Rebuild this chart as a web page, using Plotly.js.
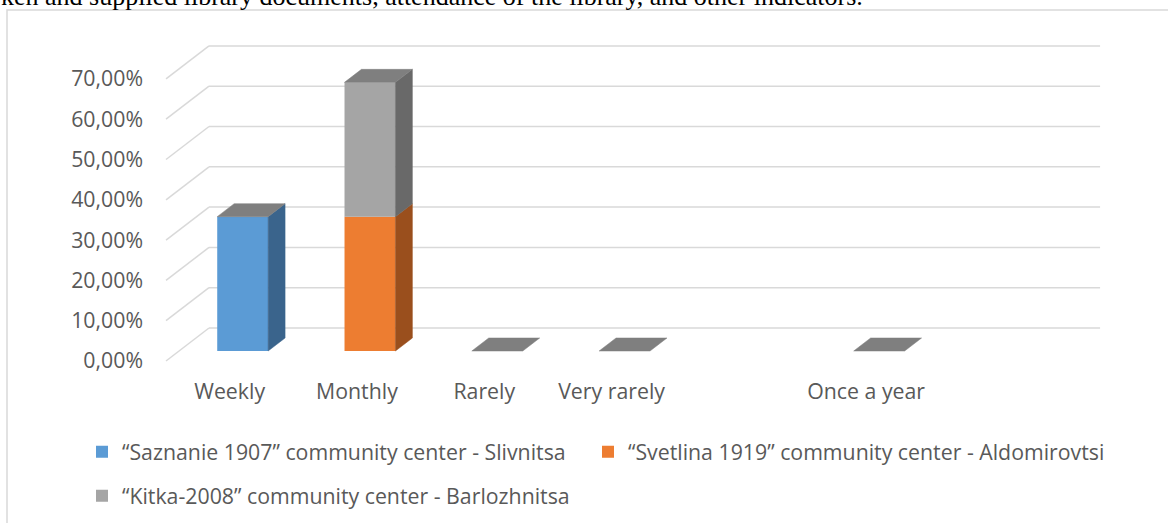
<!DOCTYPE html>
<html><head><meta charset="utf-8">
<script src="https://cdn.plot.ly/plotly-3.0.1.min.js"></script>
<style>html,body{margin:0;padding:0;background:#fff}#chart{width:1168px;height:523px}</style>
</head><body><div id="chart"></div>
<script>
// ---- data ----
const categories = ['Weekly', 'Monthly', 'Rarely', 'Very rarely', '', 'Once a year', ''];
const seriesNames = [
  '\u201cSaznanie 1907\u201d community center - Slivnitsa',
  '\u201cSvetlina 1919\u201d community center - Aldomirovtsi',
  '\u201cKitka-2008\u201d community center - Barlozhnitsa'
];
const saznanie = [33.33, 0, 0, 0, null, 0, null];
const svetlina = [0, 33.33, 0, 0, null, 0, null];
const kitka = [0, 33.33, 0, 0, null, 0, null];
const yTicks = [0, 10, 20, 30, 40, 50, 60, 70];
const pageText = 'ken and supplied library documents, attendance of the library, and other indicators.';

// ---- style ----
const frontColors = ['#5b9bd5', '#ed7d31', '#a5a5a5'];
const sideColors = ['#3a648c', '#9a4f1d', '#696969'];
const topColors = ['#41719c', '#ae5a21', '#7f7f7f'];
const textColor = '#595959';
const gridColor = '#d9d9d9';
const FONT = '"Open Sans", Lato, sans-serif';
const FS = 21.3;

// oblique projection of the depth dimension (t = 0 front, 1 back wall)
const DX = 0.3378, DY = 8.19, TF = 0.303, TB = 0.697, BW = 0.4;
const P = (c, v, t) => [c + DX * t, v + DY * t];

const series = [saznanie, svetlina, kitka];
const legendIds = ['legend', 'legend3', 'legend2'];
const nCat = categories.length;
const traces = [];
const cum = new Array(nCat).fill(0);
const sideTraces = [];

series.forEach((vals, s) => {
  const xs = [], ys = [], bases = [];
  vals.forEach((v, i) => {
    xs.push(i + 0.5 + DX * TF);
    if (v === null) { ys.push(null); bases.push(null); return; }
    ys.push(v); bases.push(cum[i] + DY * TF);
    if (v > 0) {
      const xr = i + 0.5 + BW / 2;
      const pts = [P(xr, cum[i], TF), P(xr, cum[i], TB), P(xr, cum[i] + v, TB), P(xr, cum[i] + v, TF), P(xr, cum[i], TF)];
      sideTraces.push({
        type: 'scatter', mode: 'lines', fill: 'toself',
        x: pts.map(p => p[0]), y: pts.map(p => p[1]),
        fillcolor: sideColors[s], line: {width: 0.5, color: sideColors[s]},
        hoverinfo: 'skip', showlegend: false
      });
    }
    cum[i] += v;
  });
  traces.push({
    type: 'bar', name: seriesNames[s], x: xs, y: ys, base: bases, width: BW,
    marker: {color: frontColors[s], line: {width: 0}},
    legend: legendIds[s],
    hoverinfo: 'skip'
  });
});

// top faces of the topmost series
const topTraces = [];
const last = series.length - 1;
series[last].forEach((v, i) => {
  if (v === null) return;
  const top = cum[i];
  const xl = i + 0.5 - BW / 2, xr = i + 0.5 + BW / 2;
  const pts = [P(xl, top, TF), P(xr, top, TF), P(xr, top, TB), P(xl, top, TB), P(xl, top, TF)];
  topTraces.push({
    type: 'scatter', mode: 'lines', fill: 'toself',
    x: pts.map(p => p[0]), y: pts.map(p => p[1]),
    fillcolor: topColors[last], line: {width: 0.5, color: topColors[last]},
    hoverinfo: 'skip', showlegend: false
  });
});

// gridlines: side wall diagonals + back wall
const shapes = [];
yTicks.forEach(v => {
  const a = P(0, v, 0), b = P(0, v, 1), c = P(nCat, v, 1);
  shapes.push({type: 'line', xref: 'x', yref: 'y', x0: a[0], y0: a[1], x1: b[0], y1: b[1], layer: 'below', line: {color: gridColor, width: 1.5}});
  shapes.push({type: 'line', xref: 'x', yref: 'y', x0: b[0], y0: b[1], x1: c[0], y1: c[1], layer: 'below', line: {color: gridColor, width: 1.5}});
});

// page geometry (pixels)
const W = 1168, H = 523, ML = 147, MR = 58, MT = 40, MB = 151;
const PW = W - ML - MR, PH = H - MT - MB;
const px = x => (x - ML) / PW;
const py = y => (H - MB - y) / PH;

// chart frame
shapes.push({type: 'rect', xref: 'paper', yref: 'paper', x0: px(7), x1: px(1190), y0: py(540), y1: py(10),
  line: {color: '#d9d9d9', width: 1.5}, layer: 'below'});

const legendBase = {
  orientation: 'h', xanchor: 'left', yanchor: 'middle',
  font: {family: FONT, size: FS, color: textColor}, bgcolor: 'rgba(0,0,0,0)'
};

const layout = {
  width: W, height: H,
  margin: {l: ML, r: MR, t: MT, b: MB, pad: 0, autoexpand: false},
  paper_bgcolor: '#fff', plot_bgcolor: 'rgba(0,0,0,0)',
  barmode: 'overlay',
  showlegend: true,
  font: {family: FONT, color: textColor, size: FS},
  xaxis: {
    range: [-0.1493, 7.4157], showgrid: false, zeroline: false, showline: false,
    tickvals: categories.map((_, i) => i + 0.5), ticktext: categories,
    ticks: '', tickfont: {family: FONT, size: FS, color: textColor}, automargin: false,
    ticklabelstandoff: 5, fixedrange: true
  },
  yaxis: {
    range: [-2.73, 79.65], showgrid: false, zeroline: false, showline: false,
    tickvals: yTicks, ticktext: yTicks.map(v => v.toFixed(2).replace('.', ',') + '%'),
    ticks: '', tickfont: {family: FONT, size: FS, color: textColor}, automargin: false,
    ticklabelstandoff: 3, fixedrange: true
  },
  legend: Object.assign({}, legendBase, {x: px(82), y: py(452)}),
  legend3: Object.assign({}, legendBase, {x: px(588), y: py(452)}),
  legend2: Object.assign({}, legendBase, {x: px(82), y: py(496)}),
  shapes: shapes,
  annotations: [{
    text: pageText, xref: 'paper', yref: 'paper', x: px(-1), y: py(-3),
    xanchor: 'left', yanchor: 'middle', showarrow: false,
    font: {family: '"Liberation Serif", "Times New Roman", serif', size: 26, color: '#000'}
  }]
};

Plotly.newPlot('chart', traces.concat(sideTraces, topTraces), layout, {displayModeBar: false, staticPlot: true});
</script>
</body></html>
